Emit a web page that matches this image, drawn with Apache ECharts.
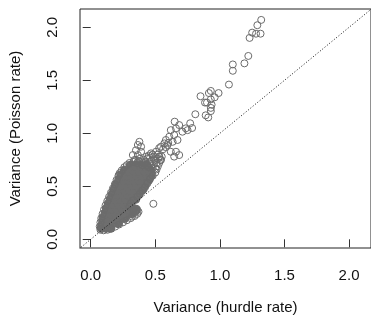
<!DOCTYPE html>
<html>
<head>
<meta charset="utf-8">
<script src="https://cdn.jsdelivr.net/npm/echarts@6/dist/echarts.min.js"></script>
<style>
html, body { margin: 0; padding: 0; background: #fff; }
#main { width: 371px; height: 320px; }
</style>
</head>
<body>
<div id="main"></div>
<script>
// tick values for both axes
var ticks = [0, 0.5, 1, 1.5, 2];

// dense part of the cloud (overlapping circles read as solid grey)
var denseCore = [
  [0.085,0.11],[0.12,0.11],[0.15,0.11],
  [0.095,0.155],[0.135,0.155],[0.175,0.155],[0.21,0.155],
  [0.10,0.20],[0.14,0.20],[0.18,0.20],[0.22,0.20],[0.26,0.20],
  [0.115,0.245],[0.155,0.245],[0.195,0.245],[0.235,0.245],[0.275,0.245],[0.315,0.245],
  [0.125,0.29],[0.165,0.29],[0.205,0.29],[0.245,0.29],[0.285,0.29],[0.325,0.29],[0.35,0.28],
  [0.14,0.335],[0.18,0.335],[0.22,0.335],[0.26,0.335],[0.295,0.335],
  [0.155,0.38],[0.195,0.38],[0.235,0.38],[0.275,0.38],[0.315,0.38],[0.345,0.38],
  [0.17,0.425],[0.21,0.425],[0.25,0.425],[0.29,0.425],[0.33,0.425],[0.37,0.425],
  [0.185,0.47],[0.225,0.47],[0.265,0.47],[0.305,0.47],[0.345,0.47],[0.385,0.47],[0.40,0.47],
  [0.20,0.515],[0.24,0.515],[0.28,0.515],[0.32,0.515],[0.36,0.515],[0.40,0.515],[0.42,0.515],
  [0.22,0.56],[0.26,0.56],[0.30,0.56],[0.34,0.56],[0.38,0.56],[0.42,0.56],[0.445,0.56],
  [0.24,0.605],[0.28,0.605],[0.32,0.605],[0.36,0.605],[0.40,0.605],[0.44,0.605],[0.465,0.605],
  [0.265,0.65],[0.30,0.65],[0.34,0.65],[0.38,0.65],[0.42,0.65],[0.46,0.65],
  [0.31,0.695],[0.35,0.695],[0.39,0.695],[0.43,0.695]
];

// individual circles: edge of the cloud, upper band and outliers
var points = [
  // left edge
  [0.075,0.09],[0.07,0.12],[0.075,0.16],[0.082,0.20],[0.092,0.24],[0.103,0.28],
  [0.115,0.32],[0.128,0.36],[0.142,0.40],[0.157,0.44],[0.172,0.48],[0.187,0.52],
  [0.20,0.56],[0.215,0.60],[0.225,0.625],[0.24,0.65],[0.26,0.68],
  // bottom edge and lower branch
  [0.10,0.085],[0.13,0.09],[0.16,0.10],[0.19,0.12],[0.22,0.14],[0.25,0.16],
  [0.28,0.18],[0.31,0.20],[0.34,0.22],[0.36,0.24],[0.37,0.26],[0.355,0.27],
  [0.33,0.28],[0.30,0.31],[0.345,0.255],[0.32,0.215],
  // right edge of the main band
  [0.31,0.34],[0.33,0.37],[0.36,0.40],[0.38,0.43],[0.40,0.46],[0.42,0.49],
  [0.44,0.53],[0.46,0.57],[0.48,0.60],[0.50,0.63],[0.51,0.66],[0.52,0.69],
  [0.53,0.72],[0.54,0.75],[0.55,0.78],[0.53,0.78],
  // upper band
  [0.28,0.70],[0.30,0.72],[0.33,0.73],[0.35,0.75],[0.37,0.74],[0.39,0.73],
  [0.415,0.717],[0.454,0.717],[0.44,0.764],[0.467,0.811],[0.49,0.78],[0.505,0.826],
  [0.53,0.78],[0.544,0.748],[0.47,0.74],[0.49,0.71],[0.45,0.68],[0.48,0.67],
  [0.41,0.75],[0.43,0.78],[0.52,0.80],[0.50,0.75],[0.46,0.77],[0.40,0.70],
  [0.47,0.69],[0.51,0.72],[0.44,0.70],[0.48,0.80],[0.45,0.79],[0.42,0.73],
  [0.50,0.67],[0.52,0.76],[0.36,0.72],[0.38,0.76],
  // group at x ~ 0.37
  [0.377,0.92],[0.365,0.89],[0.39,0.874],[0.35,0.84],[0.39,0.826],[0.365,0.795],
  [0.326,0.795],[0.338,0.748],[0.22,0.61],
  // band continuing up
  [0.544,0.874],[0.57,0.905],[0.582,0.937],[0.595,0.89],[0.62,0.826],[0.66,0.826],
  [0.685,0.795],[0.646,0.78],[0.608,0.968],[0.634,0.92],[0.672,0.937],[0.646,0.984],
  [0.62,1.03],[0.66,1.047],[0.685,1.078],[0.65,1.11],[0.71,1.015],[0.736,1.047],
  [0.56,0.85],[0.58,0.87],[0.53,0.86],[0.60,0.91],
  // outliers
  [0.485,0.335],
  [0.75,1.03],[0.785,1.05],[0.77,1.095],[0.81,1.18],
  [0.85,1.35],[0.885,1.29],[0.90,1.29],[0.93,1.32],[0.936,1.27],[0.93,1.24],
  [0.93,1.21],[0.89,1.17],[0.91,1.15],[0.915,1.38],[0.93,1.40],[0.96,1.34],
  [0.99,1.38],[1.07,1.46],[1.10,1.59],[1.10,1.65],[1.19,1.66],[1.22,1.73],
  [1.23,1.90],[1.25,1.95],[1.28,1.94],[1.315,1.94],[1.29,2.02],[1.32,2.07]
];

// y = x reference line
var refLine = [[-0.2,-0.2],[2.4,2.4]];

var chart = echarts.init(document.getElementById('main'), null, {renderer: 'canvas'});

var font = 'Liberation Sans, Arial, sans-serif';
var option = {
  animation: false,
  grid: {
    left: 79, top: 9, right: 0, bottom: 71,
    show: true, borderColor: '#222', borderWidth: 1, backgroundColor: 'transparent'
  },
  xAxis: {
    type: 'value',
    min: -0.083, max: 2.17,
    name: 'Variance (hurdle rate)',
    nameLocation: 'middle',
    nameGap: 52,
    nameTextStyle: {fontFamily: font, fontSize: 15, color: '#111'},
    axisLine: {show: false},
    splitLine: {show: false},
    axisTick: {show: true, length: 8, lineStyle: {color: '#333'}, customValues: ticks},
    axisLabel: {
      fontFamily: font, fontSize: 15, color: '#111', margin: 20,
      customValues: ticks,
      formatter: function (v) { return v.toFixed(1); }
    }
  },
  yAxis: {
    type: 'value',
    min: -0.082, max: 2.173,
    name: 'Variance (Poisson rate)',
    nameLocation: 'middle',
    nameGap: 57,
    nameTextStyle: {fontFamily: font, fontSize: 15, color: '#111'},
    axisLine: {show: false},
    splitLine: {show: false},
    axisTick: {show: true, length: 8, lineStyle: {color: '#333'}, customValues: ticks},
    axisLabel: {
      fontFamily: font, fontSize: 15, color: '#111', margin: 20, rotate: 90,
      customValues: ticks,
      formatter: function (v) { return v.toFixed(1); }
    }
  },
  series: [
    {
      name: 'core',
      type: 'scatter',
      symbol: 'circle',
      symbolSize: 10,
      data: denseCore,
      itemStyle: {color: '#6e6e6e', borderWidth: 0, opacity: 1},
      emphasis: {disabled: true},
      z: 2
    },
    {
      name: 'points',
      type: 'scatter',
      symbol: 'circle',
      symbolSize: 7,
      data: points,
      itemStyle: {color: 'rgba(0,0,0,0)', borderColor: '#6b6b6b', borderWidth: 1, opacity: 1},
      emphasis: {disabled: true},
      z: 3
    },
    {
      name: 'y=x',
      type: 'line',
      data: refLine,
      symbol: 'none',
      clip: true,
      lineStyle: {color: '#111', width: 1, type: [1, 2]},
      z: 4
    }
  ]
};
chart.setOption(option);
</script>
</body>
</html>
